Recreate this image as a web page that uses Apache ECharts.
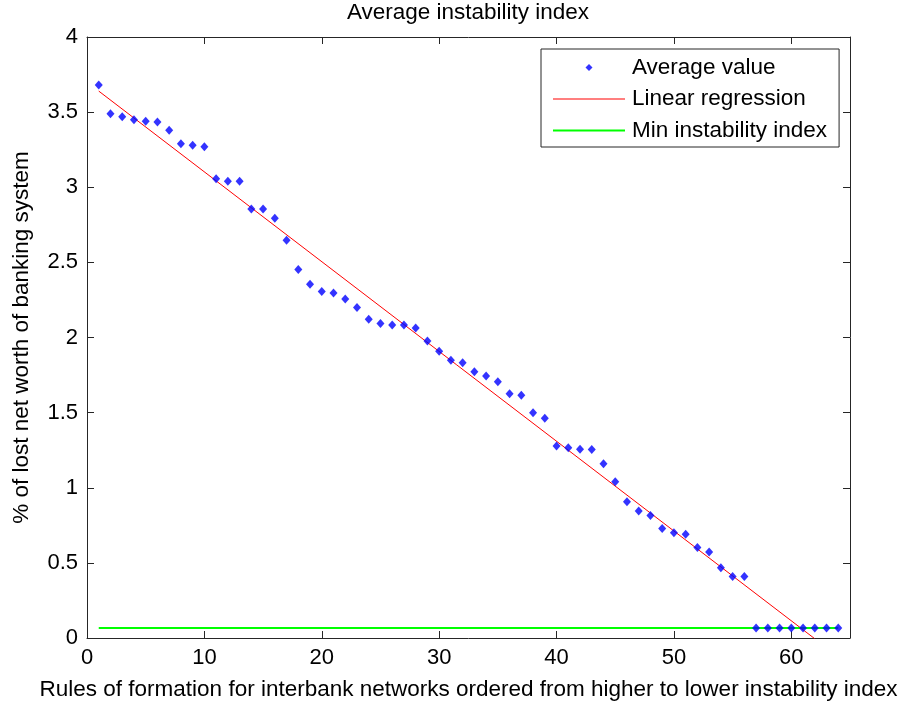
<!DOCTYPE html>
<html>
<head>
<meta charset="utf-8">
<script src="https://cdn.jsdelivr.net/npm/echarts@6/dist/echarts.min.js"></script>
<style>html,body{margin:0;padding:0;background:#fff}#c{width:901px;height:706px}</style>
</head>
<body>
<div id="c"></div>
<script>
const ranks = [1,2,3,4,5,6,7,8,9,10,11,12,13,14,15,16,17,18,19,20,21,22,23,24,25,26,27,28,29,30,31,32,33,34,35,36,37,38,39,40,41,42,43,44,45,46,47,48,49,50,51,52,53,54,55,56,57,58,59,60,61,62,63,64];
const averageValues = [3.68,3.49,3.47,3.45,3.44,3.435,3.38,3.29,3.28,3.27,3.056,3.04,3.04,2.855,2.855,2.793,2.647,2.452,2.354,2.306,2.297,2.257,2.199,2.122,2.093,2.084,2.084,2.064,1.977,1.909,1.849,1.832,1.772,1.743,1.705,1.626,1.615,1.50,1.462,1.278,1.267,1.256,1.255,1.16,1.04,0.906,0.846,0.815,0.729,0.70,0.691,0.603,0.573,0.467,0.41,0.41,0.066,0.066,0.066,0.066,0.066,0.066,0.066,0.066];
const regressionX = [1, 62];
const regressionY = [3.64, -0.005];
const minIndexX = [1, 64];
const minIndexY = [0.066, 0.066];
const xTicks = [0,10,20,30,40,50,60];
const yTicks = [0,0.5,1,1.5,2,2.5,3,3.5,4];

const FONT = 'Liberation Sans';
const FS = 22.5;
const TFS = 22;
const AX = '#262626';
const pair = (xs, ys) => xs.map((x, i) => [x, ys[i]]);

const baseX = {
  type: 'value', min: 0, max: 65, interval: 10,
  axisLine: {show: true, onZero: false, lineStyle: {color: AX, width: 1}},
  axisTick: {show: true, inside: true, length: 7, lineStyle: {color: AX}},
  splitLine: {show: false}
};
const baseY = {
  type: 'value', min: 0, max: 4, interval: 0.5,
  axisLine: {show: true, onZero: false, lineStyle: {color: AX, width: 1}},
  axisTick: {show: true, inside: true, length: 7, lineStyle: {color: AX}},
  splitLine: {show: false}
};

const chart = echarts.init(document.getElementById('c'), null, {renderer: 'canvas'});
chart.setOption({
  animation: false,
  backgroundColor: '#fff',
  textStyle: {fontFamily: FONT},
  title: {
    text: 'Average instability index', left: 468, textAlign: 'center', top: 1,
    padding: 0,
    textStyle: {fontFamily: FONT, fontSize: FS, fontWeight: 'normal', color: '#000'}
  },
  grid: {left: 87, top: 37, right: 51, bottom: 67, containLabel: false},
  legend: {
    orient: 'vertical', left: 541, top: 49,
    borderColor: AX, borderWidth: 1, backgroundColor: '#fff',
    padding: [7, 12, 5, 12],
    itemWidth: 72, itemHeight: 7, itemGap: 8.5,
    symbolKeepAspect: true,
    textStyle: {fontFamily: FONT, fontSize: FS, color: '#000', padding: [0, 0, 0, 2]},
    data: [
      {name: 'Average value', icon: 'path://M0,-1L1,0L0,1L-1,0Z', itemStyle: {color: '#0000ff', borderWidth: 0}},
      {name: 'Linear regression', icon: 'path://M0,0L72,0L72,1L0,1Z', itemStyle: {color: '#ff0000', borderWidth: 0}},
      {name: 'Min instability index', icon: 'path://M0,0L72,0L72,2L0,2Z', itemStyle: {color: '#00ff00', borderWidth: 0}}
    ]
  },
  xAxis: [
    Object.assign({}, baseX, {
      position: 'bottom',
      name: 'Rules of formation for interbank networks ordered from higher to lower instability index',
      nameLocation: 'middle', nameGap: 40,
      nameTextStyle: {fontFamily: FONT, fontSize: FS, color: '#000'},
      axisLabel: {show: true, margin: 9, fontFamily: FONT, fontSize: TFS, color: '#000',
        formatter: v => xTicks.indexOf(v) >= 0 ? String(v) : ''}
    }),
    Object.assign({}, baseX, {position: 'top', axisLabel: {show: false}})
  ],
  yAxis: [
    Object.assign({}, baseY, {
      position: 'left',
      name: '% of lost net worth of banking system',
      nameLocation: 'middle', nameGap: 54,
      nameTextStyle: {fontFamily: FONT, fontSize: FS, color: '#000'},
      axisLabel: {show: true, margin: 9, fontFamily: FONT, fontSize: TFS, color: '#000',
        formatter: v => yTicks.indexOf(v) >= 0 ? String(v) : ''}
    }),
    Object.assign({}, baseY, {position: 'right', axisLabel: {show: false}})
  ],
  series: [
    {
      name: 'Average value', type: 'scatter', xAxisIndex: 0, yAxisIndex: 0,
      symbol: 'diamond', symbolSize: [8, 9],
      itemStyle: {color: '#0000ff'},
      data: pair(ranks, averageValues), z: 5
    },
    {
      name: 'Linear regression', type: 'line', xAxisIndex: 0, yAxisIndex: 0,
      symbol: 'none', lineStyle: {color: '#ff0000', width: 1}, itemStyle: {color: '#ff0000'},
      data: pair(regressionX, regressionY), z: 3
    },
    {
      name: 'Min instability index', type: 'line', xAxisIndex: 0, yAxisIndex: 0,
      symbol: 'none', lineStyle: {color: '#00ff00', width: 2}, itemStyle: {color: '#00ff00'},
      data: pair(minIndexX, minIndexY), z: 2
    }
  ]
});
</script>
</body>
</html>
